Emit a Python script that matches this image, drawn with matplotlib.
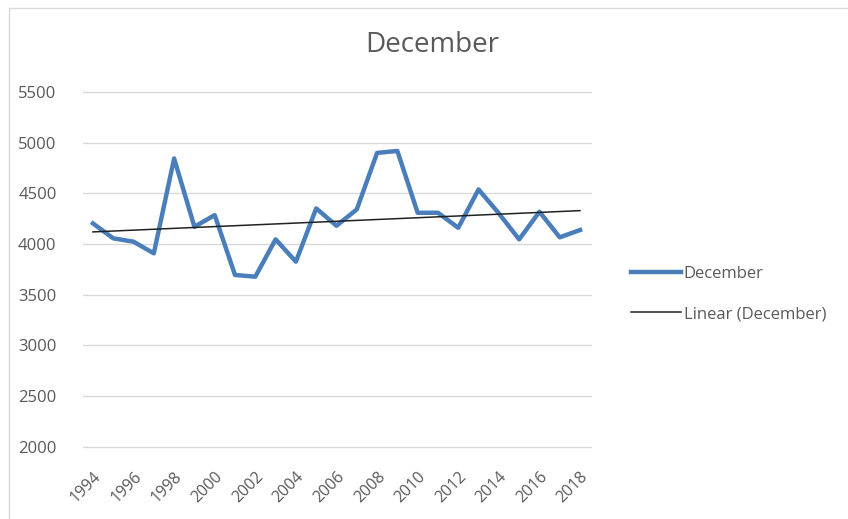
import numpy as np
import matplotlib.pyplot as plt
from matplotlib.patches import Rectangle

years = list(range(1994, 2019))
december = [4203, 4056, 4023, 3908, 4843, 4170, 4285, 3695, 3678, 4046,
            3826, 4351, 4180, 4341, 4898, 4917, 4308, 4308, 4160, 4538,
            4302, 4046, 4318, 4066, 4138]
tick_years = list(range(1994, 2019, 2))
y_ticks = [2000, 2500, 3000, 3500, 4000, 4500, 5000, 5500]

plt.rcParams['font.family'] = ['Open Sans', 'DejaVu Sans']
gray = "#595959"

fig = plt.figure(figsize=(8.48, 5.19), dpi=100)
# plot area in pixels: x 83..592, y 91..449
ax = fig.add_axes([83/848, 1-449/519, (592-83)/848, (449-91)/519])

# trendline from least squares fit
coef = np.polyfit(years, december, 1)
trend = np.polyval(coef, years)

ax.plot(years, december, color="#4a7ebb", lw=3.2, label="December", zorder=3)
ax.plot(years, trend, color="#222222", lw=1.1, label="Linear (December)", zorder=4)

ax.set_ylim(1980, 5500 + 8)
ax.set_xlim(1993.51, 2018.59)
ax.set_yticks(y_ticks)
ax.set_xticks(tick_years)
ax.set_xticklabels([str(y) for y in tick_years], rotation=45, ha="right",
                   rotation_mode="anchor")
ax.tick_params(length=0, colors=gray, labelsize=12)
ax.tick_params(axis="y", pad=19)
ax.tick_params(axis="x", labelsize=11.5, pad=14)
for s in ax.spines.values():
    s.set_visible(False)
ax.grid(axis="y", color="#d9d9d9", lw=1)
ax.set_axisbelow(True)

fig.text(432/848, 1-45/519, "December", ha="center", va="center",
         fontsize=20, color=gray)

leg = fig.legend(loc="center left", bbox_to_anchor=(616/848, 1-294/519),
                 frameon=False, fontsize=12, labelcolor=gray,
                 handlelength=3.0, handletextpad=0.15, labelspacing=1.45)

fig.patches.append(Rectangle((9/848, -0.1), 1.2, 1-8/519+0.1,
                             transform=fig.transFigure, fill=False,
                             ec="#d9d9d9", lw=1))

fig.savefig("out.png", dpi=100)
